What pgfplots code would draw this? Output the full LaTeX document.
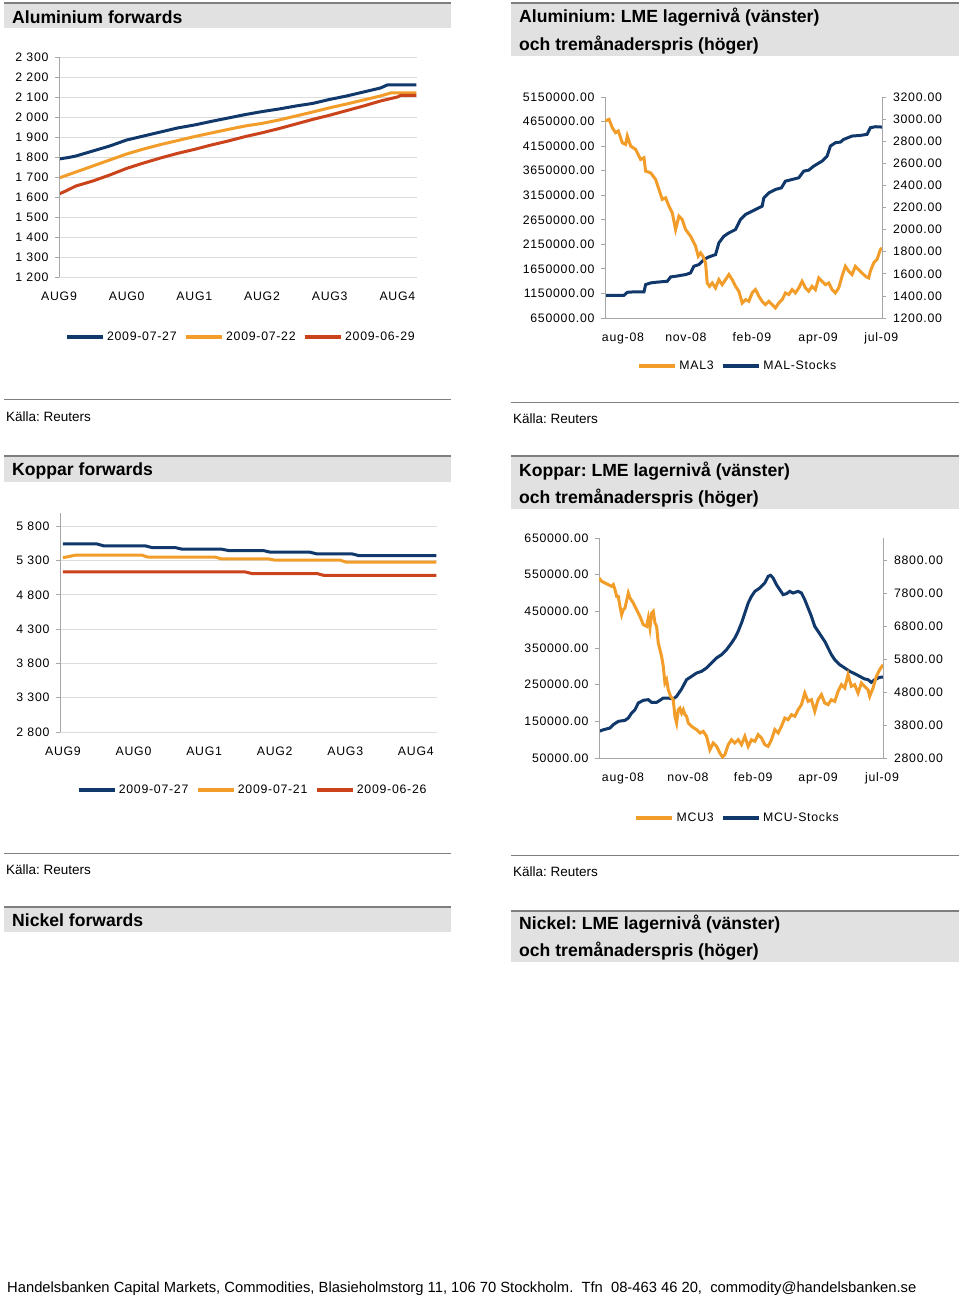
\documentclass[border=0pt]{standalone}
\usepackage{pgfplots}
\pgfplotsset{compat=1.18}
\usepackage{fontspec}
\setmainfont{Liberation Sans}
\newfontfamily\tickfont[LetterSpace=6]{Liberation Sans}
\definecolor{navy}{HTML}{10386A}
\definecolor{orng}{HTML}{F29D2A}
\definecolor{rd}{HTML}{CA431A}
\definecolor{axgray}{HTML}{A6A6A6}
\definecolor{gridgray}{HTML}{DCDCDC}
\definecolor{boxgray}{HTML}{E1E1E1}
\definecolor{linegray}{HTML}{7F7F7F}
\pgfplotsset{
  panel/.style={scale only axis, anchor=south west,
    axis line style={draw=none},
    tick style={draw=axgray, line width=0.8pt}, tick align=outside, major tick length=4pt,
    xtick style={draw=none}, xtick pos=bottom,
    ticklabel style={font=\tickfont\fontsize{12.3}{14}\selectfont, text=black},
    /pgf/number format/assume math mode=true, scaled y ticks=false,
    legend image code/.code={\draw[##1, line width=3.5pt] (0pt,0pt) -- (36pt,0pt);},
    legend style={anchor=center, draw=none, fill=none, font=\tickfont\fontsize{12.3}{14}\selectfont,
      inner sep=0pt, nodes={inner sep=0.5pt},
      /tikz/every odd column/.append style={column sep=2pt},
      /tikz/every even column/.append style={column sep=7pt}},
    xticklabel style={yshift=-7.5pt},
  },
  fwd/.style={panel, ytick pos=left, ymajorgrids,
    grid style={draw=gridgray, line width=0.8pt},
    yticklabel style={xshift=-3pt, /pgf/number format/1000 sep={\ }},
    legend columns=3,
    extra description/.code={
      \draw[gridgray, line width=0.8pt] (axis description cs:0,0) -- (axis description cs:1,0);
      \draw[axgray, line width=0.8pt] (axis description cs:0,0) -- (axis description cs:0,1);}},
  dualL/.style={panel, ytick pos=left,
    yticklabel style={xshift=-3pt, /pgf/number format/.cd, fixed, fixed zerofill, precision=2, 1000 sep={}},
    extra description/.code={
      \draw[axgray, line width=0.8pt] (axis description cs:0,1) -- (axis description cs:0,0) -- (axis description cs:1,0);}},
  dualR/.style={panel, xtick=\empty, ytick pos=right, yticklabel pos=right,
    yticklabel style={xshift=3.5pt, /pgf/number format/.cd, fixed, fixed zerofill, precision=2, 1000 sep={}},
    legend columns=2,
    extra description/.code={
      \draw[axgray, line width=0.8pt] (axis description cs:1,0) -- (axis description cs:1,1);}},
}
\begin{document}
\frenchspacing
\begin{tikzpicture}
\path[use as bounding box, fill=white] (0pt,0pt) rectangle (960pt,-1300pt);
\begin{scope}[x=1pt,y=-1pt]
  \tikzset{ttl/.style={anchor=west, font=\bfseries\fontsize{17.6}{20}\selectfont, inner sep=0pt},
           src/.style={anchor=west, font=\fontsize{13.5}{16}\selectfont, inner sep=0pt}}
  % title boxes
  \fill[boxgray] (4,3) rectangle (451,28);
  \draw[linegray, line width=1.2pt] (4,3) -- (451,3);
  \node[ttl] at (12,17) {Aluminium forwards};
  \fill[boxgray] (511,3) rectangle (959,56);
  \draw[linegray, line width=1.2pt] (511,3) -- (959,3);
  \node[ttl] at (519,17) {Aluminium: LME lagernivå (vänster)};
  \node[ttl] at (519,45) {och tremånaderspris (höger)};
  \fill[boxgray] (4,456) rectangle (451,482);
  \draw[linegray, line width=1.2pt] (4,456) -- (451,456);
  \node[ttl] at (12,471) {Koppar forwards};
  \fill[boxgray] (511,456) rectangle (959,509);
  \draw[linegray, line width=1.2pt] (511,456) -- (959,456);
  \node[ttl] at (519,471) {Koppar: LME lagernivå (vänster)};
  \node[ttl] at (519,498) {och tremånaderspris (höger)};
  \fill[boxgray] (4,907) rectangle (451,932);
  \draw[linegray, line width=1.2pt] (4,907) -- (451,907);
  \node[ttl] at (12,920) {Nickel forwards};
  \fill[boxgray] (511,911) rectangle (959,962);
  \draw[linegray, line width=1.2pt] (511,911) -- (959,911);
  \node[ttl] at (519,924) {Nickel: LME lagernivå (vänster)};
  \node[ttl] at (519,951) {och tremånaderspris (höger)};
  % sources
  \draw[linegray, line width=0.8pt] (4,399) -- (451,399);
  \node[src] at (6,417) {Källa: Reuters};
  \draw[linegray, line width=0.8pt] (511,402) -- (959,402);
  \node[src] at (513,419) {Källa: Reuters};
  \draw[linegray, line width=0.8pt] (4,853) -- (451,853);
  \node[src] at (6,870) {Källa: Reuters};
  \draw[linegray, line width=0.8pt] (511,855) -- (959,855);
  \node[src] at (513,872) {Källa: Reuters};
  % footer
  \node[anchor=west, font=\fontsize{14.75}{17}\selectfont, inner sep=0pt] at (7,1289) {Handelsbanken Capital Markets, Commodities, Blasieholmstorg 11, 106 70 Stockholm.\ \ Tfn\ \ 08-463 46 20,\ \ commodity@handelsbanken.se};
\end{scope}

% ---------- Aluminium forwards ----------
\begin{axis}[fwd, at={(59pt,-277pt)}, width=358pt, height=220pt,
  xmin=0, xmax=5.29, ymin=1200, ymax=2300,
  ytick={1200,1300,1400,1500,1600,1700,1800,1900,2000,2100,2200,2300},
  xtick={0,1,2,3,4,5}, xticklabels={AUG9,AUG0,AUG1,AUG2,AUG3,AUG4},
  legend style={at={(0.506,-0.273)}}]
\addplot[navy, line width=3pt] coordinates {(0,1790)(0.15,1798)(0.25,1805)(0.5,1830)(0.75,1855)(1.0,1885)(1.25,1905)(1.5,1925)(1.75,1945)(2.0,1960)(2.25,1978)(2.5,1995)(2.75,2012)(3.0,2027)(3.25,2040)(3.5,2055)(3.75,2068)(4.0,2088)(4.25,2105)(4.5,2125)(4.75,2145)(4.85,2160)(5.28,2160)};
\addlegendentry{2009-07-27}
\addplot[orng, line width=3pt] coordinates {(0,1695)(0.25,1725)(0.5,1755)(0.75,1785)(1.0,1815)(1.25,1840)(1.5,1862)(1.75,1882)(2.0,1902)(2.25,1920)(2.5,1938)(2.75,1955)(3.0,1968)(3.25,1985)(3.5,2005)(3.75,2025)(4.0,2046)(4.25,2065)(4.5,2085)(4.75,2105)(4.9,2120)(5.28,2120)};
\addlegendentry{2009-07-22}
\addplot[rd, line width=3pt] coordinates {(0,1615)(0.1,1630)(0.25,1655)(0.5,1680)(0.75,1710)(1.0,1743)(1.25,1770)(1.5,1795)(1.75,1818)(2.0,1838)(2.25,1860)(2.5,1880)(2.75,1902)(3.0,1921)(3.25,1942)(3.5,1965)(3.75,1988)(4.0,2009)(4.25,2032)(4.5,2055)(4.75,2080)(5.0,2100)(5.05,2108)(5.28,2108)};
\addlegendentry{2009-06-29}
\end{axis}

% ---------- Aluminium LME ----------
\begin{axis}[dualL, at={(605pt,-318pt)}, width=277pt, height=221pt,
  xmin=0, xmax=832, ymin=650000, ymax=5150000,
  ytick={650000,1150000,1650000,2150000,2650000,3150000,3650000,4150000,4650000,5150000},
  xtick={54,243,441,640,830}, xticklabels={aug-08,nov-08,feb-09,apr-09,jul-09}]
\addplot[navy, line width=3pt] coordinates {(0,1112000)(57,1112000)(67,1173000)(82,1180000)(117,1180000)(122,1330000)(137,1364000)(152,1377000)(187,1398000)(197,1486000)(212,1500000)(242,1534000)(257,1568000)(267,1704000)(282,1738000)(297,1840000)(312,1894000)(332,1941000)(342,2179000)(357,2315000)(372,2383000)(392,2451000)(407,2655000)(422,2757000)(442,2825000)(472,2927000)(477,3097000)(492,3199000)(512,3267000)(530,3301000)(542,3437000)(562,3471000)(582,3505000)(597,3641000)(612,3661000)(627,3743000)(652,3845000)(667,3947000)(677,4151000)(692,4219000)(707,4232000)(717,4287000)(742,4355000)(767,4368000)(787,4389000)(797,4525000)(812,4545000)(832,4538000)};
\end{axis}
\begin{axis}[dualR, at={(605pt,-318pt)}, width=277pt, height=221pt,
  xmin=0, xmax=832, ymin=1200, ymax=3200,
  ytick={1200,1400,1600,1800,2000,2200,2400,2600,2800,3000,3200},
  legend style={at={(0.477,-0.217)}}]
\addplot[orng, line width=3pt] coordinates {(0,2982)(12,2998)(22,2922)(32,2877)(40,2892)(52,2786)(62,2771)(67,2847)(77,2756)(92,2726)(107,2635)(117,2650)(122,2529)(137,2514)(152,2454)(162,2363)(172,2273)(182,2288)(192,2212)(202,2152)(212,2001)(222,2122)(232,2091)(242,2001)(257,1940)(272,1850)(280,1759)(287,1789)(294,1759)(302,1699)(307,1517)(314,1487)(322,1517)(332,1472)(342,1547)(352,1502)(362,1547)(372,1593)(382,1547)(392,1487)(402,1442)(412,1336)(422,1366)(432,1351)(442,1427)(452,1457)(462,1397)(472,1351)(482,1321)(492,1351)(502,1321)(512,1291)(522,1336)(532,1366)(542,1427)(552,1412)(562,1457)(572,1427)(582,1472)(592,1532)(602,1472)(612,1442)(622,1487)(632,1457)(642,1562)(652,1532)(662,1502)(672,1517)(682,1457)(692,1427)(702,1472)(712,1578)(722,1668)(732,1623)(742,1593)(752,1668)(762,1638)(772,1608)(782,1578)(792,1562)(797,1623)(807,1699)(817,1729)(827,1819)(832,1835)};
\addlegendentry{MAL3}
\addlegendimage{navy}
\addlegendentry{MAL-Stocks}
\end{axis}

% ---------- Koppar forwards ----------
\begin{axis}[fwd, at={(60pt,-732pt)}, width=377pt, height=219.5pt,
  xmin=-0.042, xmax=5.30, ymin=2800, ymax=6000,
  ytick={2800,3300,3800,4300,4800,5300,5800},
  xtick={0,1,2,3,4,5}, xticklabels={AUG9,AUG0,AUG1,AUG2,AUG3,AUG4},
  legend style={at={(0.509,-0.264)}}]
\addplot[navy, line width=3pt] coordinates {(0,5542)(0.48,5542)(0.58,5513)(1.17,5513)(1.26,5489)(1.59,5489)(1.69,5465)(2.25,5465)(2.35,5445)(2.84,5445)(2.94,5421)(3.50,5421)(3.60,5396)(4.10,5396)(4.19,5372)(5.29,5372)};
\addlegendentry{2009-07-27}
\addplot[orng, line width=3pt] coordinates {(0,5343)(0.06,5353)(0.17,5377)(1.12,5377)(1.21,5348)(2.16,5348)(2.25,5324)(2.91,5324)(3.01,5304)(3.93,5304)(4.02,5275)(5.29,5275)};
\addlegendentry{2009-07-21}
\addplot[rd, line width=3pt] coordinates {(0,5134)(2.58,5134)(2.68,5110)(3.60,5110)(3.69,5085)(5.29,5085)};
\addlegendentry{2009-06-26}
\end{axis}

% ---------- Koppar LME ----------
\begin{axis}[dualL, at={(599pt,-758pt)}, width=284pt, height=220pt,
  xmin=0, xmax=853, ymin=50000, ymax=650000,
  ytick={50000,150000,250000,350000,450000,550000,650000},
  xtick={72,267,463,658,850}, xticklabels={aug-08,nov-08,feb-09,apr-09,jul-09}]
\addplot[navy, line width=3pt] coordinates {(0,122700)(13,127000)(33,131800)(43,141000)(58,150000)(78,152700)(88,159000)(98,172700)(108,181800)(118,200000)(133,207300)(148,209100)(158,201800)(173,201800)(183,207300)(193,213600)(208,213600)(223,210900)(233,218200)(248,238200)(263,263600)(278,272700)(293,281800)(308,286400)(323,295500)(338,309100)(353,322700)(368,331800)(383,345500)(398,363600)(408,377300)(418,395500)(428,418200)(438,445500)(448,472700)(458,490900)(468,504500)(483,513600)(498,527300)(508,545500)(515,548200)(523,540900)(533,522700)(543,509100)(553,495500)(563,498200)(573,504500)(583,500000)(598,504500)(608,500000)(618,481800)(628,459100)(638,436400)(648,409100)(658,395500)(668,381800)(678,368200)(688,350000)(698,331800)(708,318200)(723,304500)(738,295500)(753,286400)(768,280000)(783,272700)(798,265500)(808,263600)(818,256400)(828,263600)(843,270000)(853,270900)};
\end{axis}
\begin{axis}[dualR, at={(599pt,-758pt)}, width=284pt, height=220pt,
  xmin=0, xmax=853, ymin=2800, ymax=9478,
  ytick={2800,3800,4800,5800,6800,7800,8800},
  legend style={at={(0.486,-0.273)}}]
\addplot[orng, line width=3pt] coordinates {(0,8264)(8,8163)(18,8112)(28,8061)(38,8011)(43,8061)(48,7910)(53,7707)(58,7707)(63,7404)(68,7151)(73,7303)(78,7353)(88,7808)(93,7657)(103,7505)(113,7303)(123,7100)(133,6847)(143,6797)(148,7050)(153,6746)(158,7201)(163,7252)(168,6898)(173,6797)(178,6291)(188,5886)(193,5582)(198,5077)(203,5178)(208,4874)(215,4672)(223,4571)(228,4065)(233,3862)(238,4267)(243,4318)(248,4166)(253,4267)(258,4115)(263,4065)(268,3862)(278,3761)(293,3660)(303,3559)(313,3609)(323,3458)(333,3053)(343,3255)(353,3154)(363,2952)(371,2830)(378,2901)(388,3205)(398,3356)(408,3255)(418,3356)(428,3205)(438,3458)(448,3154)(458,3356)(468,3306)(478,3508)(488,3407)(498,3205)(508,3154)(518,3356)(528,3660)(538,3559)(548,3761)(558,4014)(568,3963)(578,4115)(588,4065)(598,4267)(608,4419)(618,4773)(628,4520)(638,4571)(648,4217)(658,4571)(668,4723)(678,4470)(688,4419)(698,4571)(708,4520)(718,4823)(728,5026)(738,4925)(748,5330)(758,4975)(768,5026)(778,4773)(788,5077)(798,4975)(808,4874)(813,4672)(823,4925)(833,5279)(843,5481)(853,5633)};
\addlegendentry{MCU3}
\addlegendimage{navy}
\addlegendentry{MCU-Stocks}
\end{axis}
\end{tikzpicture}
\end{document}
